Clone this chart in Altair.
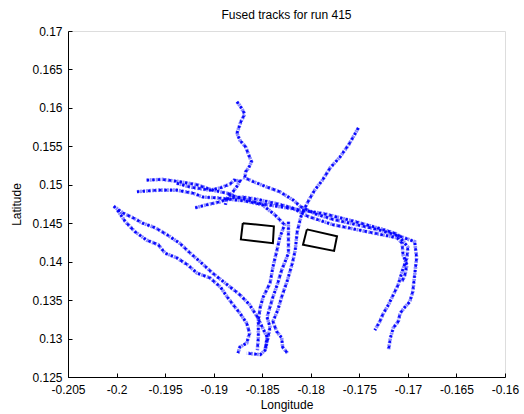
import altair as alt
import pandas as pd

# Fused GPS tracks (longitude / latitude), one pair of lists per track
t1_lon = [-0.1876, -0.1872, -0.1868, -0.1872, -0.1876, -0.1873, -0.1867, -0.1864, -0.1861, -0.1864,
          -0.1867, -0.1868, -0.1859, -0.1845, -0.1832, -0.1818, -0.1811, -0.1795, -0.1777, -0.1760,
          -0.1742, -0.1726, -0.1708, -0.1693, -0.1691, -0.1693, -0.1695, -0.1698, -0.1703, -0.1708,
          -0.1710, -0.1715, -0.1718, -0.1720]
t1_lat = [0.1608, 0.1601, 0.1592, 0.1582, 0.1567, 0.1558, 0.1549, 0.1539, 0.1530, 0.1522,
          0.1517, 0.1509, 0.1504, 0.1497, 0.1491, 0.1480, 0.1472, 0.1462, 0.1455, 0.1450,
          0.1445, 0.1440, 0.1433, 0.1426, 0.1405, 0.1383, 0.1361, 0.1348, 0.1341, 0.1333,
          0.1322, 0.1314, 0.1301, 0.1285]

t2_lon = [-0.1751, -0.1755, -0.1761, -0.1770, -0.1780, -0.1788, -0.1796, -0.1802, -0.1806, -0.1810,
          -0.1814, -0.1816, -0.1819, -0.1824, -0.1830, -0.1834, -0.1839, -0.1835, -0.1830, -0.1829,
          -0.1824]
t2_lat = [0.1574, 0.1565, 0.1552, 0.1536, 0.1522, 0.1506, 0.1493, 0.1480, 0.1470, 0.1459,
          0.1439, 0.1415, 0.1398, 0.1376, 0.1354, 0.1337, 0.1322, 0.1309, 0.1301, 0.1289,
          0.1281]

t3_lon = [-0.1969, -0.1953, -0.1935, -0.1917, -0.1901, -0.1886, -0.1876, -0.1854, -0.1830, -0.1809,
          -0.1785, -0.1754, -0.1726, -0.1711, -0.1700, -0.1701, -0.1706, -0.1710, -0.1715, -0.1720,
          -0.1726, -0.1729, -0.1734]
t3_lat = [0.1506, 0.1507, 0.1504, 0.1500, 0.1493, 0.1489, 0.1484, 0.1476, 0.1471, 0.1467,
          0.1462, 0.1452, 0.1442, 0.1436, 0.1419, 0.1405, 0.1387, 0.1370, 0.1357, 0.1344,
          0.1331, 0.1322, 0.1311]

t4_lon = [-0.1979, -0.1958, -0.1938, -0.1921, -0.1911, -0.1897, -0.1883, -0.1868, -0.1850, -0.1837,
          -0.1827, -0.1832, -0.1835, -0.1839, -0.1842, -0.1849, -0.1852, -0.1854, -0.1854, -0.1855]
t4_lat = [0.1491, 0.1493, 0.1493, 0.1489, 0.1484, 0.1483, 0.1481, 0.1479, 0.1474, 0.1461,
          0.1448, 0.1431, 0.1414, 0.1393, 0.1372, 0.1354, 0.1341, 0.1324, 0.1302, 0.1285]

t5_lon = [-0.1938, -0.1924, -0.1904, -0.1893, -0.1883, -0.1879, -0.1873, -0.1876, -0.1880, -0.1886,
          -0.1888]
t5_lat = [0.1502, 0.1497, 0.1493, 0.1496, 0.1501, 0.1506, 0.1505, 0.1498, 0.1491, 0.1483,
          0.1474]

t6_lon = [-0.1919, -0.1907, -0.1893, -0.1883, -0.1870, -0.1855, -0.1837, -0.1819, -0.1803, -0.1777,
          -0.1742, -0.1711, -0.1706, -0.1705, -0.1701, -0.1703, -0.1706]
t6_lat = [0.1470, 0.1474, 0.1478, 0.1483, 0.1484, 0.1481, 0.1476, 0.1470, 0.1459, 0.1448,
          0.1439, 0.1431, 0.1424, 0.1409, 0.1396, 0.1383, 0.1374]

t7_lon = [-0.2003, -0.1993, -0.1983, -0.1973, -0.1960, -0.1948, -0.1935, -0.1924, -0.1914, -0.1901,
          -0.1886, -0.1873, -0.1863, -0.1855, -0.1850, -0.1845, -0.1847]
t7_lat = [0.1472, 0.1463, 0.1457, 0.1450, 0.1444, 0.1435, 0.1424, 0.1411, 0.1400, 0.1385,
          0.1370, 0.1357, 0.1344, 0.1328, 0.1315, 0.1302, 0.1285]

t8_lon = [-0.1999, -0.1991, -0.1981, -0.1969, -0.1957, -0.1950, -0.1938, -0.1927, -0.1917, -0.1904,
          -0.1893, -0.1886, -0.1880, -0.1873, -0.1866, -0.1863, -0.1866, -0.1873, -0.1875]
t8_lat = [0.1467, 0.1452, 0.1439, 0.1428, 0.1422, 0.1411, 0.1405, 0.1396, 0.1385, 0.1379,
          0.1367, 0.1354, 0.1344, 0.1333, 0.1320, 0.1307, 0.1294, 0.1289, 0.1281]

t9_lon = [-0.1823, -0.1823, -0.1830, -0.1834, -0.1839, -0.1842, -0.1845, -0.1842, -0.1844, -0.1847,
          -0.1852, -0.1866]
t9_lat = [0.1452, 0.1411, 0.1389, 0.1372, 0.1354, 0.1341, 0.1328, 0.1315, 0.1301, 0.1285,
          0.1279, 0.1281]

# Two building outlines (closed quadrilaterals)
box1_lon = [-0.1870, -0.1838, -0.1839, -0.1872, -0.1870]
box1_lat = [0.1450, 0.1446, 0.1424, 0.1429, 0.1450]
box2_lon = [-0.1804, -0.1773, -0.1776, -0.1808, -0.1804]
box2_lat = [0.1442, 0.1433, 0.1414, 0.1422, 0.1442]

x_ticks = [-0.205, -0.2, -0.195, -0.19, -0.185, -0.18, -0.175, -0.17, -0.165, -0.16]
y_ticks = [0.125, 0.13, 0.135, 0.14, 0.145, 0.15, 0.155, 0.16, 0.165, 0.17]

FONT = "Liberation Sans"
BLUE = "#0000ff"

tracks = [(t1_lon, t1_lat), (t2_lon, t2_lat), (t3_lon, t3_lat), (t4_lon, t4_lat),
          (t5_lon, t5_lat), (t6_lon, t6_lat), (t7_lon, t7_lat), (t8_lon, t8_lat),
          (t9_lon, t9_lat)]
rows = []
for k, (lons, lats) in enumerate(tracks):
    for i, (lo, la) in enumerate(zip(lons, lats)):
        rows.append({"track": k, "seq": i, "lon": lo, "lat": la})
track_df = pd.DataFrame(rows)

box_rows = []
for k, (lons, lats) in enumerate([(box1_lon, box1_lat), (box2_lon, box2_lat)]):
    for i, (lo, la) in enumerate(zip(lons, lats)):
        box_rows.append({"box": k, "seq": i, "lon": lo, "lat": la})
box_df = pd.DataFrame(box_rows)

x_scale = alt.Scale(domain=[-0.205, -0.16], nice=False, zero=False)
y_scale = alt.Scale(domain=[0.125, 0.17], nice=False, zero=False)

main_x_axis = alt.Axis(values=x_ticks, labelExpr="'' + datum.value", tickSize=0,
                       labelPadding=7, domainColor="black", labelColor="black",
                       labelFont=FONT, labelFontSize=12, titleFont=FONT, titleFontSize=12,
                       titleFontWeight="normal", titleColor="black", titlePadding=4,
                       grid=False, title="Longitude", labelFlush=False)
main_y_axis = alt.Axis(values=y_ticks, labelExpr="'' + datum.value", tickSize=0,
                       labelPadding=6, domainColor="black", labelColor="black",
                       labelFont=FONT, labelFontSize=12, titleFont=FONT, titleFontSize=12,
                       titleFontWeight="normal", titleColor="black", titlePadding=8,
                       grid=False, title="Latitude", labelFlush=False)

# inward-pointing tick marks: axes on the opposite side, shifted onto the plot edges
tick_x_axis = alt.Axis(orient="top", offset=-346, values=x_ticks, labels=False,
                       domain=False, grid=False, title=None, tickSize=4,
                       tickColor="black")
tick_y_axis = alt.Axis(orient="right", offset=-437, values=y_ticks, labels=False,
                       domain=False, grid=False, title=None, tickSize=4,
                       tickColor="black")

base = alt.Chart(track_df)

light = base.mark_line(color=BLUE, strokeWidth=3.6, strokeDash=[2, 1], opacity=0.45).encode(
    x=alt.X("lon:Q", scale=x_scale, axis=main_x_axis),
    y=alt.Y("lat:Q", scale=y_scale, axis=main_y_axis),
    detail="track:N",
    order="seq:Q",
)

dark = base.mark_line(color=BLUE, strokeWidth=2.6, strokeDash=[2.5, 3], opacity=0.95).encode(
    x=alt.X("lon:Q", scale=x_scale, axis=None),
    y=alt.Y("lat:Q", scale=y_scale, axis=None),
    detail="track:N",
    order="seq:Q",
)

boxes = alt.Chart(box_df).mark_line(color="black", strokeWidth=2).encode(
    x=alt.X("lon:Q", scale=x_scale, axis=tick_x_axis),
    y=alt.Y("lat:Q", scale=y_scale, axis=tick_y_axis),
    detail="box:N",
    order="seq:Q",
)

chart = alt.layer(light, dark, boxes).resolve_axis(
    x="independent", y="independent"
).properties(
    width=437,
    height=346,
    autosize=alt.AutoSizeParams(type="none"),
    padding={"left": 68, "top": 31, "right": 19, "bottom": 37},
    title=alt.Title("Fused tracks for run 415", font=FONT, fontSize=12,
                    fontWeight="normal", color="black", anchor="middle", offset=3),
).configure_view(strokeWidth=0).configure(background="white")

chart.save("out.html", embed_options={"renderer": "svg", "actions": False})
